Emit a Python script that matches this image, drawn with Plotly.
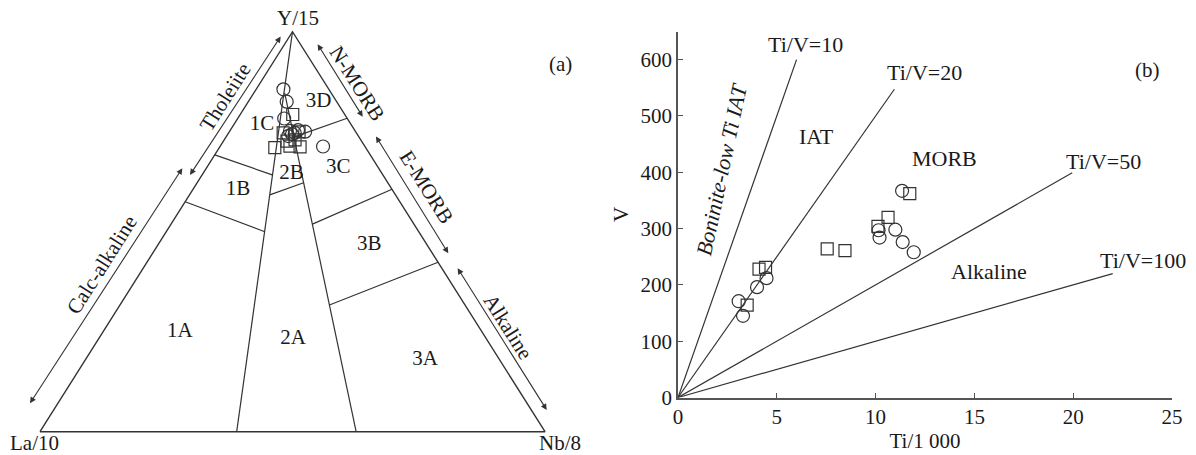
import plotly.graph_objects as go

# ---------------- Panel (a): La/10 - Y/15 - Nb/8 ternary (values in %) ----------------
tern_circle_la = [9.0, 9.9, 12.5, 12.9, 12.9, 13.9, 12.2, 11.2, 10.0, 8.3]
tern_circle_y = [85.6, 82.5, 78.3, 75.2, 74.4, 73.9, 74.7, 75.4, 75.0, 71.3]
tern_circle_nb = [5.4, 7.6, 9.2, 11.9, 12.7, 12.2, 13.1, 13.4, 15.0, 20.4]

tern_square_la = [10.3, 18.0, 12.9, 13.0, 14.8, 11.2, 14.5, 14.8]
tern_square_y = [79.3, 71.0, 71.2, 72.9, 72.7, 74.9, 74.7, 71.4]
tern_square_nb = [10.4, 11.0, 15.9, 14.0, 12.6, 13.8, 10.8, 13.8]

# field boundaries of the discrimination diagram (La, Y, Nb)
outline = [(100, 0, 0), (0, 100, 0), (0, 0, 100), (100, 0, 0)]
boundaries = [
    [(0, 100, 0), (61.05, 0, 38.95)],                    # 1 | 2 divider
    [(9.2, 84.7, 6.1), (37.4, 0, 62.6)],                 # 2 | 3 divider
    [(30.8, 69.2, 0), (21.9, 64.2, 13.9)],               # 1C / 1B
    [(42.5, 57.5, 0), (30.5, 50.0, 19.5)],               # 1B / 1A
    [(24.9, 59.2, 15.9), (16.7, 62.3, 21.1)],            # 2B / 2A
    [(12.8, 73.7, 13.5), (0, 78.35, 21.65)],             # 3D / 3C
    [(20.1, 51.9, 28.0), (0, 60.6, 39.4)],               # 3C / 3B
    [(26.85, 31.68, 41.47), (0, 42.35, 57.65)],          # 3B / 3A
]
field_names = ["1C", "3D", "1B", "2B", "3C", "3B", "1A", "2A", "3A"]
field_la = [17.7, 3.6, 30.6, 17.9, 8.0, 11.5, 59.8, 38.3, 14.8]
field_y = [76.7, 82.5, 60.4, 64.6, 65.9, 46.7, 25.0, 23.2, 17.9]
field_nb = [5.6, 13.9, 9.0, 17.5, 26.1, 41.9, 15.2, 38.5, 67.3]

# ---------------- Panel (b): Ti/1000 - V ----------------
ti_circle = [3.07, 3.29, 4.0, 4.48, 10.15, 10.2, 11.0, 11.37, 11.93, 11.34]
v_circle = [171, 145, 196, 212, 297, 284, 298, 276, 258, 367]
ti_square = [3.5, 4.1, 4.43, 7.55, 8.45, 10.12, 10.63, 11.73]
v_square = [164, 228, 231, 264, 261, 304, 320, 362]

tiv_ratios = [10, 20, 50, 100]
tiv_line_end_ti = [6.0, 10.95, 19.95, 22.0]

FONT = "Liberation Serif"
LINE = "#333333"
TXT = "#1a1a1a"


def tern_xy(la, y, nb):
    s = la + y + nb
    return (nb + y / 2.0) / s, y / s


fig = go.Figure()

# ---- ternary outline and fields
ox, oy = zip(*[tern_xy(*p) for p in outline])
fig.add_trace(go.Scatter(x=ox, y=oy, mode="lines", line=dict(color=LINE, width=1.4),
                         showlegend=False, hoverinfo="skip", xaxis="x", yaxis="y"))
for seg in boundaries:
    sx, sy = zip(*[tern_xy(*p) for p in seg])
    fig.add_trace(go.Scatter(x=sx, y=sy, mode="lines", line=dict(color=LINE, width=1.2),
                             showlegend=False, hoverinfo="skip", xaxis="x", yaxis="y"))

cx, cy = zip(*[tern_xy(a, b, c) for a, b, c in zip(tern_circle_la, tern_circle_y, tern_circle_nb)])
sqx, sqy = zip(*[tern_xy(a, b, c) for a, b, c in zip(tern_square_la, tern_square_y, tern_square_nb)])
fig.add_trace(go.Scatter(x=cx, y=cy, mode="markers",
                         marker=dict(symbol="circle-open", size=13, color=LINE, line=dict(width=1.2)),
                         showlegend=False, xaxis="x", yaxis="y"))
fig.add_trace(go.Scatter(x=sqx, y=sqy, mode="markers",
                         marker=dict(symbol="square-open", size=12, color=LINE, line=dict(width=1.2)),
                         showlegend=False, xaxis="x", yaxis="y"))

fx, fy = zip(*[tern_xy(a, b, c) for a, b, c in zip(field_la, field_y, field_nb)])
fig.add_trace(go.Scatter(x=fx, y=fy, mode="text", text=field_names,
                         textfont=dict(family=FONT, size=21, color=TXT),
                         showlegend=False, hoverinfo="skip", xaxis="x", yaxis="y"))

# ---- panel (b)
for r, xe in zip(tiv_ratios, tiv_line_end_ti):
    fig.add_trace(go.Scatter(x=[0, xe], y=[0, xe * 1000.0 / r], mode="lines",
                             line=dict(color=LINE, width=1.2), showlegend=False,
                             hoverinfo="skip", xaxis="x2", yaxis="y2"))
fig.add_trace(go.Scatter(x=ti_circle, y=v_circle, mode="markers",
                         marker=dict(symbol="circle-open", size=13, color=LINE, line=dict(width=1.2)),
                         showlegend=False, xaxis="x2", yaxis="y2"))
fig.add_trace(go.Scatter(x=ti_square, y=v_square, mode="markers",
                         marker=dict(symbol="square-open", size=12, color=LINE, line=dict(width=1.2)),
                         showlegend=False, xaxis="x2", yaxis="y2"))

ann = []
tf = dict(family=FONT, size=21, color=TXT)
tf2 = dict(family=FONT, size=22, color=TXT)

# vertex labels & panel tags
ann += [
    dict(x=0.51, y=1.0, xref="x", yref="y", text="Y/15", showarrow=False, font=tf, yanchor="bottom", yshift=0),
    dict(x=-0.01, y=-0.028, xref="x", yref="y", text="La/10", showarrow=False, font=tf),
    dict(x=1.03, y=-0.028, xref="x", yref="y", text="Nb/8", showarrow=False, font=tf),
    dict(x=560 / 1196, y=1 - 50 / 455, xref="paper", yref="paper", text="(a)", showarrow=False, font=tf),
    dict(x=1162 / 1196, y=1 - 56 / 455, xref="paper", yref="paper", text="(b)", showarrow=False, font=tf),
]

# side arrows (double-headed), cartesian frame of panel (a)
arrows = [
    ((0.4786, 0.9918), (0.297, 0.6418)),
    ((0.2838, 0.6625), (-0.0198, 0.071)),
    ((0.5479, 0.9725), (0.639, 0.7875)),
    ((0.6634, 0.7418), (0.8085, 0.446)),
    ((0.8251, 0.4125), (1.0034, 0.0543)),
]
for (x0, y0), (x1, y1) in arrows:
    ann.append(dict(x=x1, y=y1, ax=x0, ay=y0, xref="x", yref="y", axref="x", ayref="y",
                    showarrow=True, arrowhead=2, startarrowhead=2, arrowside="end+start",
                    arrowsize=1.1, startarrowsize=1.1, arrowwidth=1.1, arrowcolor=LINE, text=""))
side_labels = [
    ("Tholeiite", 0.3663, 0.8375, -57.7),
    ("Calc-alkaline", 0.1222, 0.4168, -57.7),
    ("N-MORB", 0.6271, 0.871, 57.7),
    ("E-MORB", 0.7657, 0.6125, 57.7),
    ("Alkaline", 0.9273, 0.2625, 57.7),
]
for t, x, y, a in side_labels:
    ann.append(dict(x=x, y=y, xref="x", yref="y", text=t, textangle=a, showarrow=False, font=tf))

# panel (b) labels
tiv_labels = [("Ti/V=10", 6.43, 627), ("Ti/V=20", 12.45, 577), ("Ti/V=50", 21.52, 419), ("Ti/V=100", 23.55, 243)]
for t, x, y in tiv_labels:
    ann.append(dict(x=x, y=y, xref="x2", yref="y2", text=t, showarrow=False, font=tf2))
reg_labels = [("IAT", 7.02, 464, 0), ("MORB", 13.48, 425, 0), ("Alkaline", 15.72, 223, 0),
              ("<i>Boninite-low Ti IAT</i>", 2.21, 405, -78)]
for t, x, y, a in reg_labels:
    ann.append(dict(x=x, y=y, xref="x2", yref="y2", text=t, textangle=a, showarrow=False, font=tf2))

ax_common = dict(showgrid=False, zeroline=False)
fig.update_layout(
    width=1196, height=455,
    margin=dict(l=0, r=0, t=0, b=0, autoexpand=False),
    paper_bgcolor="white", plot_bgcolor="white",
    showlegend=False,
    annotations=ann,
    xaxis=dict(domain=[0, 0.5], range=[-40 / 505, 558 / 505], visible=False, **ax_common),
    yaxis=dict(domain=[0, 1], range=[(431.7 - 455) / 400, 431.7 / 400], visible=False, **ax_common),
    xaxis2=dict(domain=[678 / 1196, 1172 / 1196], range=[0, 25], anchor="y2",
                tickvals=[0, 5, 10, 15, 20, 25], ticks="inside", ticklen=5, tickcolor="#555",
                showline=True, linecolor="#555", linewidth=1.5,
                tickfont=dict(family=FONT, size=21, color=TXT),
                title=dict(text="Ti/1 000", font=dict(family=FONT, size=21, color=TXT), standoff=5),
                **ax_common),
    yaxis2=dict(domain=[1 - 397.5 / 455, 1 - 31.5 / 455], range=[0, 650], anchor="x2",
                tickvals=[0, 100, 200, 300, 400, 500, 600], ticks="inside", ticklen=5, tickcolor="#555",
                showline=True, linecolor="#555", linewidth=1.5,
                tickfont=dict(family=FONT, size=21, color=TXT),
                title=dict(text="V", font=dict(family=FONT, size=21, color=TXT), standoff=6),
                **ax_common),
)

fig.write_html("out.html", config={"displayModeBar": False},
               post_script="document.body.style.margin='0px';document.body.style.padding='0px';")
